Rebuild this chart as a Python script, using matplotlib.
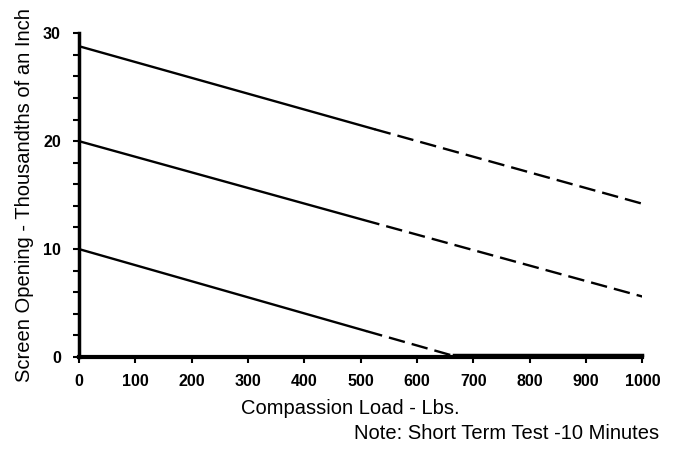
import matplotlib.pyplot as plt
from matplotlib.ticker import MultipleLocator

plt.rcParams['font.family'] = ['Liberation Sans', 'DejaVu Sans']

# Data (load in lbs, screen opening in thousandths of an inch)
top_solid_x = [0, 525]
top_solid_y = [28.8, 21.1]
top_dash_x = [525, 1000]
top_dash_y = [21.1, 14.2]

mid_solid_x = [0, 505]
mid_solid_y = [20.0, 12.7]
mid_dash_x = [505, 1000]
mid_dash_y = [12.7, 5.6]

low_solid_x = [0, 510]
low_solid_y = [10.0, 2.4]
low_dash_x = [510, 665]
low_dash_y = [2.4, 0.1]
low_flat_x = [665, 1000]
low_flat_y = [0.2, 0.2]

x_ticks = [0, 100, 200, 300, 400, 500, 600, 700, 800, 900, 1000]
y_ticks = [0, 10, 20, 30]

fig = plt.figure(figsize=(6.74, 4.49), dpi=100)
ax = fig.add_axes([0.117, 0.205, 0.836, 0.721])

dash = (0, (7, 3))
ax.plot(top_solid_x, top_solid_y, color='black', lw=1.7, solid_capstyle='round')
ax.plot(top_dash_x, top_dash_y, color='black', lw=1.7, linestyle=dash)
ax.plot(mid_solid_x, mid_solid_y, color='black', lw=1.7, solid_capstyle='round')
ax.plot(mid_dash_x, mid_dash_y, color='black', lw=1.7, linestyle=dash)
ax.plot(low_solid_x, low_solid_y, color='black', lw=1.7, solid_capstyle='round')
ax.plot(low_dash_x, low_dash_y, color='black', lw=1.7, linestyle=dash)
ax.plot(low_flat_x, low_flat_y, color='black', lw=2.5, clip_on=False)

ax.set_xlim(0, 1000)
ax.set_ylim(0, 30)
ax.set_xticks(x_ticks)
ax.set_yticks(y_ticks)
ax.yaxis.set_minor_locator(MultipleLocator(2))

for s in ['top', 'right']:
    ax.spines[s].set_visible(False)
ax.spines['left'].set_linewidth(2.5)
ax.spines['bottom'].set_linewidth(3)

ax.tick_params(which='both', direction='out', length=4, width=1.5, colors='black')
ax.tick_params(axis='x', labelsize=11.5, pad=8)
ax.tick_params(axis='y', labelsize=11.5, pad=9)
for lab in ax.get_xticklabels() + ax.get_yticklabels():
    lab.set_fontweight('bold')

ax.set_xlabel("Compassion Load - Lbs.", fontsize=14.5)
ax.xaxis.set_label_coords(0.482, -0.13)
ax.set_ylabel("Screen Opening - Thousandths of an Inch", fontsize=14.5)
ax.yaxis.set_label_coords(-0.08, 0.5)
fig.text(0.978, 0.034, "Note: Short Term Test -10 Minutes", ha='right', va='center', fontsize=14.5)

fig.savefig('out.png', dpi=100)
